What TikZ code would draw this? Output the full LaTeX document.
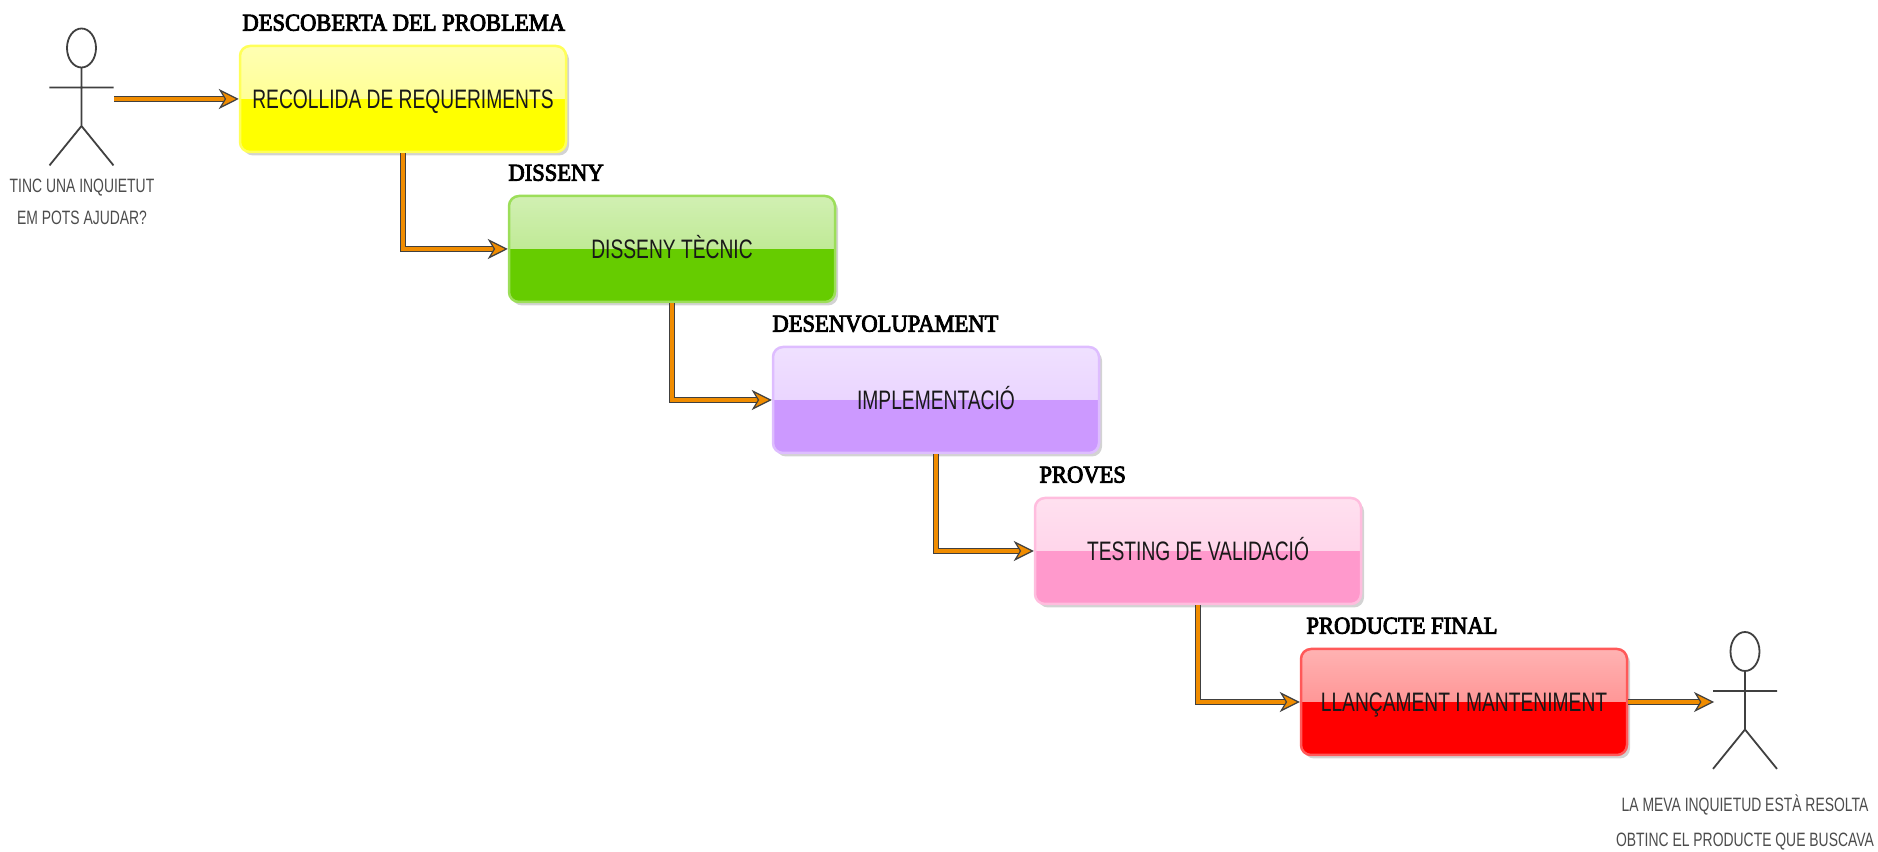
\documentclass[tikz,border=0pt]{standalone}
\usepackage{fontspec}
\newfontfamily\boxfont[FakeStretch=0.72]{Liberation Sans}
\newfontfamily\titlefont[FakeBold=3.5,FakeStretch=0.93]{Liberation Serif}
\usetikzlibrary{arrows.meta,positioning,shadows}
\definecolor{reqcol}{HTML}{FFFF00}
\definecolor{discol}{HTML}{66CC00}
\definecolor{impcol}{HTML}{CC99FF}
\definecolor{tstcol}{HTML}{FF99CC}
\definecolor{fincol}{HTML}{FF0000}
\definecolor{tipcol}{HTML}{F08C00}
\tikzset{
    phasebox/.style={rounded corners=.1cm,minimum width=3.26cm,minimum height=1.06cm,
      inner sep=0,line width=.025cm,font=\boxfont\fontsize{7.6}{9}\selectfont,text=black!90,
      text height=5.4pt,text depth=0pt,
      drop shadow={shadow xshift=.03cm,shadow yshift=-.035cm,opacity=.35}},
    phasetitle/.style={font=\titlefont\fontsize{6.9}{8}\selectfont,inner sep=0,anchor=west},
    saying/.style={font=\boxfont\fontsize{5.5}{6}\selectfont,text=black!70,inner sep=0},
    flow/.style={draw=black!75,line width=.012cm,double=tipcol,double distance=.035cm,
      -{Stealth[length=.2cm,width=.2cm,inset=.06cm,fill=tipcol,color=black!75,line width=.012cm]}},
    actor/.pic={
      \draw[black!75,line width=.018cm] (0,0) ellipse (.145cm and .195cm);
      \draw[black!75,line width=.018cm] (0,-.195) -- (0,-.78) (-.32,-.395) -- (.32,-.395)
        (-.32,-1.174) -- (0,-.78) -- (.32,-1.174);
    }
}
\begin{document}
\begin{tikzpicture}
    \useasboundingbox (0,0) rectangle (18.78,8.51);
    \foreach \nm/\xx/\yy/\cc/\dx/\tx/\ti in {
      req/4.03/7.52/reqcol/.03/{RECOLLIDA DE REQUERIMENTS}/{DESCOBERTA DEL PROBLEMA},
      dis/6.72/6.02/discol/0/{DISSENY TÈCNIC}/{DISSENY},
      imp/9.36/4.51/impcol/0/{IMPLEMENTACIÓ}/{DESENVOLUPAMENT},
      tst/11.98/3.00/tstcol/.05/{TESTING DE VALIDACIÓ}/{PROVES},
      fin/14.64/1.49/fincol/.06/{LLANÇAMENT I MANTENIMENT}/{PRODUCTE FINAL}} {
      \node[phasebox,draw=\cc!65!white,fill=\cc,path picture={
        \shade[sharp corners,top color=\cc!30!white,bottom color=\cc!52!white]
        (path picture bounding box.north west) rectangle (path picture bounding box.east);
      }] (\nm) at (\xx,\yy) {\tx};
      \node[phasetitle] (\nm title) at ([xshift=\dx cm,yshift=.22cm]\nm.north west) {\ti};
    }
    % the two people
    \pic at (.815,8.03) {actor};
    \pic at (17.45,1.995) {actor};
    \node[saying] (ask) at (.82,6.63) {TINC UNA INQUIETUT};
    \node[saying] (help) at (.82,6.33) {EM POTS AJUDAR?};
    \node[saying] (solved) at (17.45,.46) {LA MEVA INQUIETUD ESTÀ RESOLTA};
    \node[saying] (got) at (17.45,.09) {OBTINC EL PRODUCTE QUE BUSCAVA};
    \coordinate (askout) at (1.14,7.52);
    \coordinate (gotin) at (17.14,1.49);
    % connectors
    \draw[flow] (askout) -- (req);
    \draw[flow] (req) |- (dis);
    \draw[flow] (dis) |- (imp);
    \draw[flow] (imp) |- (tst);
    \draw[flow] (tst) |- (fin);
    \draw[flow] (fin) -- (gotin);
\end{tikzpicture}
\end{document}
